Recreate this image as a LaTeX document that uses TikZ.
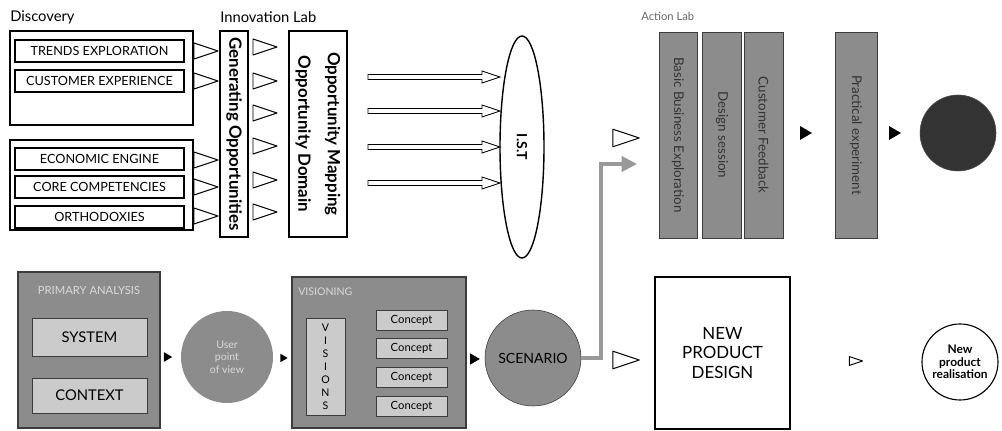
\documentclass[tikz,border=0pt]{standalone}
\usepackage{fontspec}
\setmainfont{Lato}
\usepackage{xcolor}
\usetikzlibrary{arrows.meta,positioning,shapes.geometric}

\newlength\pxu
\setlength\pxu{0.025cm}

\definecolor{midgray}{HTML}{8C8C8C}
\definecolor{lightfill}{HTML}{CBCBCB}
\definecolor{darkline}{HTML}{3C3C3C}

\begin{document}
\begin{tikzpicture}[
  x=0.025cm, y=-0.025cm,
  font=\fontsize{9}{10}\selectfont,
  lbl/.style={anchor=west, inner sep=0, font=\fontsize{10.5}{12}\selectfont},
  group/.style={draw, line width=0.8pt, inner sep=0},
  item/.style={draw, line width=0.8pt, minimum width=169\pxu, minimum height=22\pxu, inner sep=0},
  vbox/.style={draw, line width=0.8pt, rotate=-90, inner sep=0, align=center},
  lab/.style={draw=darkline, fill=midgray, text=black!80, rotate=-90, inner sep=0, line width=0.6pt, font=\fontsize{9.5}{11}\selectfont},
  shaded/.style={draw=darkline, fill=midgray, line width=0.8pt, inner sep=0},
  inner/.style={draw=darkline, fill=lightfill, line width=0.6pt, inner sep=0},
  disc/.style={circle, inner sep=0, align=center},
  feed/.style={draw=gray!80, line width=2.2pt, -{Triangle[length=11pt, width=11pt]}},
  otri/.pic={\draw[line width=0.7pt, fill=white, line join=round] (-12,-8) -- (12,0) -- (-12,8) -- cycle;},
  btri/.pic={\fill[black] (-6,-7) -- (6,0) -- (-6,7) -- cycle;},
  hollow/.pic={\draw[line width=0.6pt, fill=white] (-66,-2.5) -- (48,-2.5) -- (48,-6) -- (66,0) -- (48,6) -- (48,2.5) -- (-66,2.5) -- cycle;}
]
\useasboundingbox (0,0) rectangle (1002,431);

% discovery
\node[lbl] (disclbl) at (10,17) {Discovery};
\node[group, minimum width=183\pxu, minimum height=94\pxu] (grpA) at (101.5,78) {};
\node[group, minimum width=183\pxu, minimum height=90\pxu] (grpB) at (101.5,185) {};
\node[item] (trends) at (99.5,51) {TRENDS EXPLORATION};
\node[item] (custexp) at (99.5,81) {CUSTOMER EXPERIENCE};
\node[item] (engine) at (99.5,159) {ECONOMIC ENGINE};
\node[item] (core) at (99.5,187) {CORE COMPETENCIES};
\node[item] (ortho) at (99.5,217) {ORTHODOXIES};
\foreach \y in {51,81,160,187,216}
  \pic at (206,\y) {otri};

% innovation lab
\node[lbl] (innolbl) at (220,17) {Innovation Lab};
\node[vbox, minimum width=206\pxu, minimum height=28\pxu, font=\fontsize{12}{13}\selectfont\bfseries] (genopp) at (234,134) {Generating Opportunities};
\foreach \y in {47,81,113,146,180,212}
  \pic at (265,\y) {otri};
\node[vbox, minimum width=206\pxu, minimum height=58\pxu, font=\fontsize{12}{21}\selectfont\bfseries] (oppmap) at (318,134) {Opportunity Mapping\\Opportunity Domain};
\foreach \y in {77,111,147,183}
  \pic at (434,\y) {hollow};

\node[ellipse, draw, line width=1pt, minimum width=222\pxu, minimum height=44\pxu, rotate=-90, inner sep=0, font=\fontsize{10}{11}\selectfont\bfseries] (ist) at (522,147) {I.S.T};

\pic[scale=1.1] at (626,138) {otri};

% action lab
\node[lbl, text=black!60, font=\fontsize{8}{9}\selectfont] (actlbl) at (641,16) {Action Lab};
\node[lab, minimum width=206\pxu, minimum height=38\pxu] (basic) at (678,135) {Basic Business Exploration};
\node[lab, minimum width=206\pxu, minimum height=39\pxu] (design) at (722,135) {Design session};
\node[lab, minimum width=206\pxu, minimum height=39\pxu] (custfb) at (763.5,135) {Customer Feedback};
\pic at (806,133) {btri};
\node[lab, minimum width=206\pxu, minimum height=42\pxu] (pract) at (856,135) {Practical experiment};
\pic at (895,133) {btri};
\node[circle, fill=black!80, draw=black!70, minimum size=76\pxu, inner sep=0] (result) at (958,133) {};

% primary analysis
\node[shaded, minimum width=142\pxu, minimum height=156\pxu] (primary) at (89,350) {};
\node[inner sep=0, text=white!85!black, font=\fontsize{8}{9}\selectfont] (primlbl) at (89,290) {PRIMARY ANALYSIS};
\node[inner, minimum width=115\pxu, minimum height=38\pxu, font=\fontsize{10.5}{12}\selectfont] (system) at (89.5,337) {SYSTEM};
\node[inner, minimum width=115\pxu, minimum height=35\pxu, font=\fontsize{10.5}{12}\selectfont] (context) at (89.5,395.5) {CONTEXT};
\pic[scale=0.7] at (168,357) {btri};
\node[disc, fill=midgray, minimum size=92\pxu, text=white!85!black, font=\fontsize{7.5}{9}\selectfont] (user) at (227,357) {User\\point\\of view};
\pic[scale=0.6] at (284,358) {btri};

% visioning
\node[shaded, minimum width=174\pxu, minimum height=151\pxu] (vis) at (379,352.5) {};
\node[lbl, text=white!85!black, font=\fontsize{7.5}{8}\selectfont] (vislbl) at (298,292) {VISIONING};
\node[inner, minimum width=39\pxu, minimum height=97\pxu, align=center, font=\fontsize{7.5}{9.3}\selectfont] (visions) at (325.5,366.5) {V\\I\\S\\I\\O\\N\\S};
\foreach \y/\n in {320/a,348/b,377/c,406/d}
  \node[inner, minimum width=71\pxu, minimum height=20\pxu, font=\fontsize{8}{9}\selectfont] (concept\n) at (411.5,\y) {Concept};
\pic[scale=0.8] at (475,359) {btri};
\node[disc, fill=midgray, draw=darkline, minimum size=96\pxu, font=\fontsize{10}{11}\selectfont] (scen) at (533,358) {SCENARIO};

% feedback into action lab
\coordinate (turn) at (601,358);
\coordinate (actin) at (637,164);
\draw[feed] (scen.east) -- (turn) |- (actin);

\pic[scale=1.1] at (626,360) {otri};
\node[draw, line width=0.8pt, minimum width=135\pxu, minimum height=152\pxu, align=center, font=\fontsize{12}{14}\selectfont] (npd) at (722.5,353) {NEW\\PRODUCT\\DESIGN};
\pic[scale=0.55] at (856,361) {otri};
\node[disc, draw, line width=0.8pt, minimum size=76\pxu, font=\fontsize{8.5}{9}\selectfont\bfseries] (npr) at (960,362) {New\\product\\realisation};
\end{tikzpicture}
\end{document}
